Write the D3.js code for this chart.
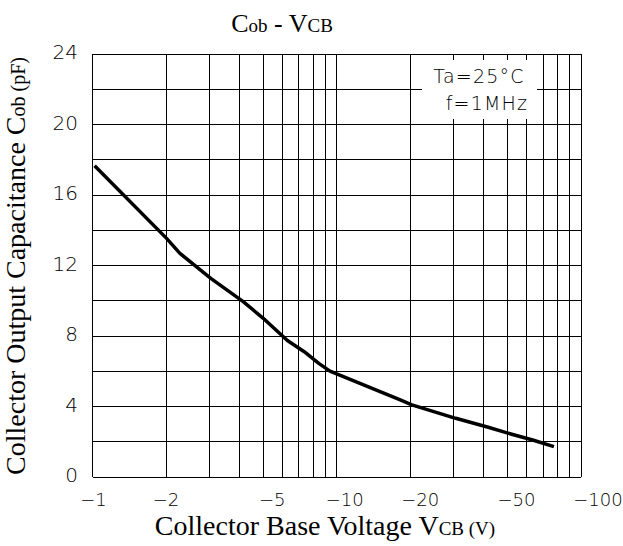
<html> <head>
<script src="https://d3js.org/d3.v7.min.js"></script>
<style>
  body { margin: 0; background: #fff; }
  .serif { font-family: "Liberation Serif", "Times New Roman", serif; fill: #000; }
  .thin { font-family: "DejaVu Sans", sans-serif; font-weight: 200; fill: #000; }
</style>
</head>
<body>
<div id="chart"></div>
<script>

// data
const vcb = [1.02, 2.01, 2.28, 3.05, 4.14, 5.09, 6.28, 7.36, 8.44, 9.38, 18.2, 20.3, 30.7, 41.7, 51.6, 63.4, 77.5];
const cob = [17.66, 13.54, 12.69, 11.27, 9.95, 8.91, 7.74, 7.11, 6.45, 6.01, 4.37, 4.09, 3.33, 2.82, 2.44, 2.10, 1.72];
const xGrid = [1, 2, 3, 4, 5, 6, 7, 8, 9, 10, 20, 30, 40, 50, 60, 70, 80, 90, 100];
const xTicks = [1, 2, 5, 10, 20, 50, 100];
const xTickLabels = ['-1', '-2', '-5', '-10', '-20', '-50', '-100'];
const yGrid = [0, 2, 4, 6, 8, 10, 12, 14, 16, 18, 20, 22, 24];
const yTicks = [0, 4, 8, 12, 16, 20, 24];
const notes = ['Ta=25°C', 'f=1MHz'];

// constants
const canvas = [623, 546];
const plot = {left: 92.5, right: 581, top: 54, bottom: 477};
// label offsets as drawn in the original sheet
const xLabelNudge = {1: 1, 2: 0, 5: 9, 10: 8, 20: 10, 50: 9, 100: 17};

const svg = d3.select('#chart').append('svg')
  .attr('width', canvas[0])
  .attr('height', canvas[1]);

const scX = d3.scaleLog().domain([1, 100]).range([plot.left, plot.right]);
const scY = d3.scaleLinear().domain([0, 24]).range([plot.bottom, plot.top]);

// grid
const grid = svg.append('g')
  .attr('stroke', '#000')
  .attr('stroke-width', 1)
  .attr('shape-rendering', 'crispEdges');
grid.selectAll('.vg').data(xGrid).enter().append('line')
  .attr('x1', d => scX(d)).attr('x2', d => scX(d))
  .attr('y1', plot.top).attr('y2', plot.bottom);
grid.selectAll('.hg').data(yGrid).enter().append('line')
  .attr('x1', plot.left).attr('x2', plot.right)
  .attr('y1', d => scY(d)).attr('y2', d => scY(d));

// condition box (white patch over the grid)
svg.append('rect')
  .attr('x', 422).attr('y', 60)
  .attr('width', 115).attr('height', 59)
  .style('fill', '#fff');
svg.append('g').selectAll('text').data(notes).enter().append('text')
  .attr('class', 'thin')
  .attr('x', (d, i) => i === 0 ? 479 : 487)
  .attr('y', (d, i) => i === 0 ? 83 : 110)
  .attr('text-anchor', 'middle')
  .style('font-size', '19px')
  .style('letter-spacing', '1.2px')
  .text(d => d);

// curve
const line = d3.line()
  .x((d, i) => scX(vcb[i]))
  .y(d => scY(d));
svg.append('path')
  .attr('d', line(cob))
  .style('fill', 'none')
  .style('stroke', '#000')
  .style('stroke-width', 3.5)
  .style('stroke-linejoin', 'round');

// tick labels
svg.append('g').selectAll('text').data(xTicks).enter().append('text')
  .attr('class', 'thin')
  .attr('x', d => scX(d) + xLabelNudge[d])
  .attr('y', 506)
  .attr('text-anchor', 'middle')
  .style('font-size', '18px')
  .text((d, i) => xTickLabels[i].replace('-', '\u2212'));
svg.append('g').selectAll('text').data(yTicks).enter().append('text')
  .attr('class', 'thin')
  .attr('x', 78)
  .attr('y', d => scY(d) + 5)
  .attr('text-anchor', 'end')
  .style('font-size', '20px')
  .text(d => d);

// title
const title = svg.append('text')
  .attr('class', 'serif')
  .attr('x', 282).attr('y', 32)
  .attr('text-anchor', 'middle')
  .style('font-size', '26px');
title.append('tspan').text('C');
title.append('tspan').style('font-size', '19px').text('ob');
title.append('tspan').text(' - V');
title.append('tspan').style('font-size', '19px').text('CB');

// x axis title
const xt = svg.append('text')
  .attr('class', 'serif')
  .attr('x', 325).attr('y', 535)
  .attr('text-anchor', 'middle')
  .style('font-size', '28px');
xt.append('tspan').text('Collector Base Voltage V');
xt.append('tspan').style('font-size', '19px').text('CB (V)');

// y axis title
const yt = svg.append('text')
  .attr('class', 'serif')
  .attr('transform', 'translate(25, 266) rotate(-90)')
  .attr('text-anchor', 'middle')
  .style('font-size', '28px');
yt.append('tspan').text('Collector Output Capacitance C');
yt.append('tspan').style('font-size', '20px').text('ob (pF)');

</script> </body></html>
